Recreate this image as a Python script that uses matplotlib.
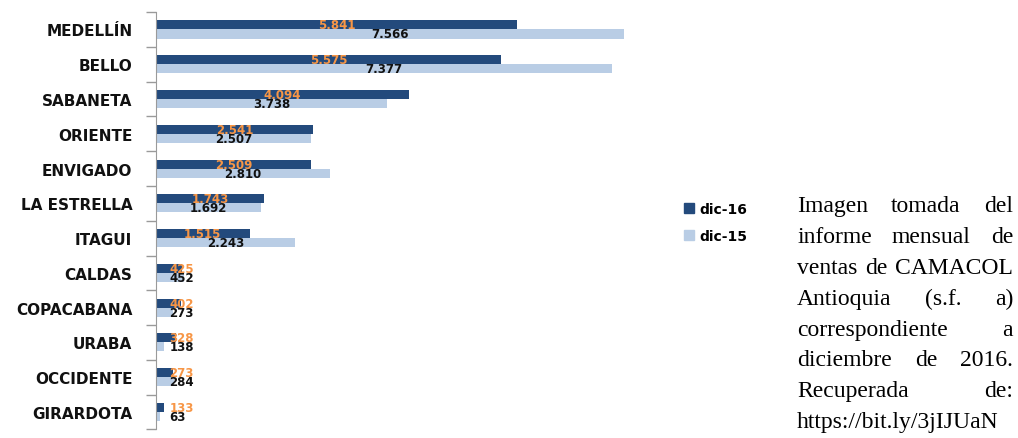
import matplotlib
matplotlib.use("Agg")
import matplotlib.pyplot as plt
from matplotlib.patches import Patch
from matplotlib.ticker import FixedLocator

categories = ["MEDELLÍN", "BELLO", "SABANETA", "ORIENTE", "ENVIGADO", "LA ESTRELLA",
              "ITAGUI", "CALDAS", "COPACABANA", "URABA", "OCCIDENTE", "GIRARDOTA"]
dic16 = [5841, 5575, 4094, 2541, 2509, 1743, 1515, 425, 402, 328, 273, 133]
dic15 = [7566, 7377, 3738, 2507, 2810, 1692, 2243, 452, 273, 138, 284, 63]
series_names = ["dic-16", "dic-15"]

note_lines = [
    "Imagen tomada del",
    "informe mensual de",
    "ventas de CAMACOL",
    "Antioquia (s.f. a)",
    "correspondiente a",
    "diciembre de 2016.",
    "Recuperada de:",
    "https://bit.ly/3jIJUaN",
]

dark = "#234a7c"
light = "#b9cde5"
orange = "#f79646"


def fmt(v):
    return "{:,}".format(v).replace(",", ".")


fig = plt.figure(figsize=(10.18, 4.39), dpi=100)
ax = fig.add_axes([0.1532, 0.0196, 0.486, 0.9506])

h = 0.26
y = list(range(len(categories)))
ax.barh([i - h / 2 for i in y], dic16, height=h, color=dark, label=series_names[0])
ax.barh([i + h / 2 for i in y], dic15, height=h, color=light, label=series_names[1])

# excel-style centred labels, pushed right when the bar is too short
for i in y:
    for v, off, col in ((dic16[i], -h / 2, orange), (dic15[i], h / 2, "#111111")):
        if v < 1000:
            ax.text(220, i + off, fmt(v), ha="left", va="center", color=col,
                    fontsize=8.5, fontweight="bold")
        else:
            ax.text(v / 2, i + off, fmt(v), ha="center", va="center", color=col,
                    fontsize=8.5, fontweight="bold")

ax.set_xlim(0, 8000)
ax.set_ylim(len(categories) - 0.5, -0.5)
ax.set_xticks([])
ax.set_yticks(y)
ax.set_yticklabels(categories, fontsize=11, fontweight="bold", color="#111111")
ax.yaxis.set_minor_locator(FixedLocator([i - 0.5 for i in range(len(categories) + 1)]))
ax.tick_params(axis="y", which="major", length=0, pad=17)
ax.tick_params(axis="y", which="minor", length=7, color="#9a9a9a", width=1)
for s in ("top", "right", "bottom"):
    ax.spines[s].set_visible(False)
ax.spines["left"].set_color("#9a9a9a")

handles = [Patch(color=dark), Patch(color=light)]
fig.legend(handles, series_names, loc="upper left", bbox_to_anchor=(0.660, 0.566),
           frameon=False, handlelength=0.7, handleheight=0.7, handletextpad=0.4,
           labelspacing=0.95, prop={"weight": "bold", "size": 10})

# justified note on the right
fig.canvas.draw()
renderer = fig.canvas.get_renderer()
x0, x1 = 797, 1013
base0, step = 212, 30.9
W, H = fig.bbox.width, fig.bbox.height
for k, line in enumerate(note_lines):
    words = line.split()
    yb = 1 - (base0 + k * step) / H
    if len(words) == 1 or k == len(note_lines) - 1:
        fig.text(x0 / W, yb, line, family="Liberation Serif", fontsize=17,
                 va="baseline", ha="left")
        continue
    texts = [fig.text(0, yb, w, family="Liberation Serif", fontsize=17, va="baseline")
             for w in words]
    widths = [t.get_window_extent(renderer).width for t in texts]
    gap = (x1 - x0 - sum(widths)) / (len(words) - 1)
    pos = x0
    for t, wd in zip(texts, widths):
        t.set_x(pos / W)
        pos += wd + gap

fig.savefig("out.png", dpi=100)
